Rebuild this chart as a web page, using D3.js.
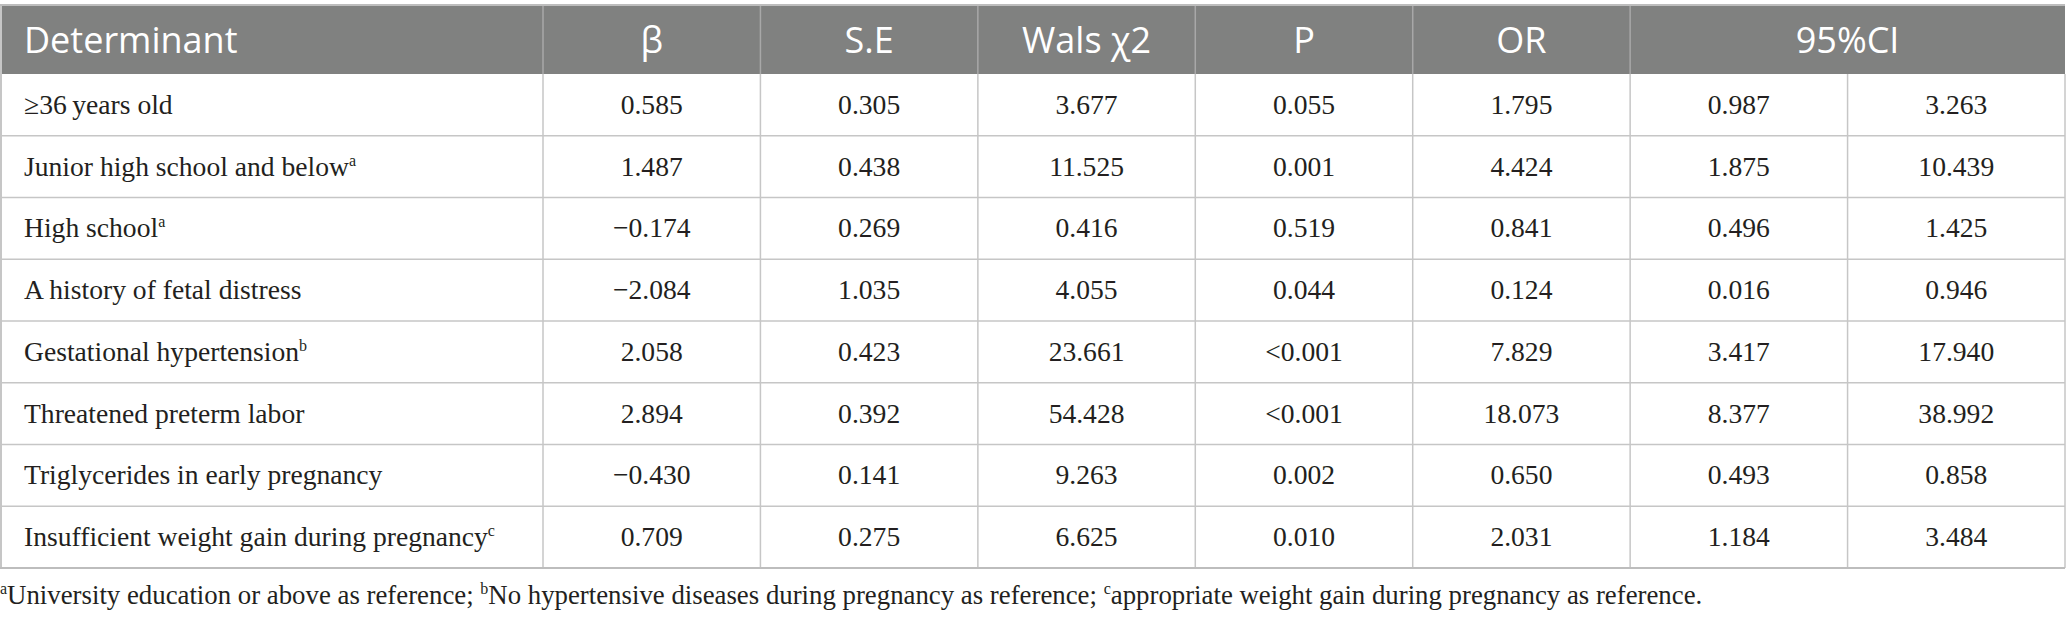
<!DOCTYPE html>
<html>
<head>
<meta charset="utf-8">
<script src="https://cdn.jsdelivr.net/npm/d3@7"></script>
<style>
  html, body { margin: 0; padding: 0; background: #fff; }
</style>
</head>
<body>
<div id="chart"></div>
<script>
// table data
var headers = ["Determinant", "\u03b2", "S.E", "Wals \u03c72", "P", "OR", "95%CI"];
var determinants = [
    "\u226536\u2009years old",
    "Junior high school and below",
    "High school",
    "A history of fetal distress",
    "Gestational hypertension",
    "Threatened preterm labor",
    "Triglycerides in early pregnancy",
    "Insufficient weight gain during pregnancy"
];
var marks = ["", "a", "a", "", "b", "", "", "c"];
var beta   = ["0.585", "1.487", "\u22120.174", "\u22122.084", "2.058", "2.894", "\u22120.430", "0.709"];
var se     = ["0.305", "0.438", "0.269", "1.035", "0.423", "0.392", "0.141", "0.275"];
var wals   = ["3.677", "11.525", "0.416", "4.055", "23.661", "54.428", "9.263", "6.625"];
var pval   = ["0.055", "0.001", "0.519", "0.044", "<0.001", "<0.001", "0.002", "0.010"];
var oddsR  = ["1.795", "4.424", "0.841", "0.124", "7.829", "18.073", "0.650", "2.031"];
var ciLow  = ["0.987", "1.875", "0.496", "0.016", "3.417", "8.377", "0.493", "1.184"];
var ciHigh = ["3.263", "10.439", "1.425", "0.946", "17.940", "38.992", "0.858", "3.484"];
var footnote = [
    ["a", "University education or above as reference; "],
    ["b", "No hypertensive diseases during pregnancy as reference; "],
    ["c", "appropriate weight gain during pregnancy as reference."]
];

var width = 2067, height = 619;
var headTop = 5, headBottom = 74, tableBottom = 568;
var firstColW = 543, tableRight = 2065;
var serif = "'Liberation Serif', 'DejaVu Serif', serif";
var sans = "'Open Sans', 'Noto Sans', sans-serif";

var svg = d3.select('#chart').append('svg')
    .attr('width', width)
    .attr('height', height);

// scales
var y = d3.scaleBand().domain(d3.range(determinants.length)).range([headBottom, tableBottom]);
var x = d3.scaleLinear().domain([0, 7]).range([firstColW, tableRight]);

var columns = [beta, se, wals, pval, oddsR, ciLow, ciHigh];

// header band
svg.append('rect')
    .attr('x', 0).attr('y', headTop)
    .attr('width', tableRight).attr('height', headBottom - headTop)
    .attr('fill', '#808180');

// header dividers (CI spans two columns)
svg.selectAll('line.hdiv').data(d3.range(0, 6)).enter()
    .append('line')
    .attr('class', 'hdiv')
    .attr('x1', function (d) { return x(d); })
    .attr('x2', function (d) { return x(d); })
    .attr('y1', headTop).attr('y2', headBottom)
    .attr('stroke', '#a8a8a8').attr('stroke-width', 1.5);

// header labels
var headX = [24].concat(d3.range(5).map(function (i) { return (x(i) + x(i + 1)) / 2; }), [x(6)]);
svg.selectAll('text.head').data(headers).enter()
    .append('text')
    .attr('class', 'head')
    .attr('x', function (d, i) { return headX[i]; })
    .attr('y', (headTop + headBottom) / 2 + 13)
    .attr('text-anchor', function (d, i) { return i === 0 ? 'start' : 'middle'; })
    .attr('font-family', sans)
    .attr('font-size', 36)
    .attr('fill', '#fff')
    .text(function (d) { return d; });

// grid lines
svg.selectAll('line.hrow').data(d3.range(1, determinants.length)).enter()
    .append('line')
    .attr('class', 'hrow')
    .attr('x1', 0).attr('x2', tableRight)
    .attr('y1', function (d) { return y(d); })
    .attr('y2', function (d) { return y(d); })
    .attr('stroke', '#c6c6c6').attr('stroke-width', 1.5);

svg.selectAll('line.vcol').data(d3.range(0, 8)).enter()
    .append('line')
    .attr('class', 'vcol')
    .attr('x1', function (d) { return x(d); })
    .attr('x2', function (d) { return x(d); })
    .attr('y1', headBottom).attr('y2', tableBottom)
    .attr('stroke', '#c6c6c6').attr('stroke-width', 1.5);

svg.append('line')
    .attr('x1', 1).attr('x2', 1)
    .attr('y1', headTop).attr('y2', tableBottom)
    .attr('stroke', '#c6c6c6').attr('stroke-width', 2);
svg.append('line')
    .attr('x1', 0).attr('x2', tableRight)
    .attr('y1', tableBottom).attr('y2', tableBottom)
    .attr('stroke', '#bdbdbd').attr('stroke-width', 2);
svg.append('line')
    .attr('x1', 0).attr('x2', tableRight)
    .attr('y1', headTop).attr('y2', headTop)
    .attr('stroke', '#bdbdbd').attr('stroke-width', 2);

// first column
var rowText = svg.selectAll('text.det').data(determinants).enter()
    .append('text')
    .attr('class', 'det')
    .attr('x', 24)
    .attr('y', function (d, i) { return y(i) + y.bandwidth() / 2 + 9; })
    .attr('font-family', serif)
    .attr('font-size', 27.6)
    .attr('fill', '#231f20');
rowText.append('tspan').text(function (d) { return d; });
rowText.append('tspan')
    .attr('font-size', 16)
    .attr('dy', -10)
    .text(function (d, i) { return marks[i]; });

// value columns
columns.forEach(function (col, c) {
    svg.selectAll('text.col' + c).data(col).enter()
        .append('text')
        .attr('class', 'col' + c)
        .attr('x', (x(c) + x(c + 1)) / 2)
        .attr('y', function (d, i) { return y(i) + y.bandwidth() / 2 + 9; })
        .attr('text-anchor', 'middle')
        .attr('font-family', serif)
        .attr('font-size', 27.6)
        .attr('fill', '#231f20')
        .text(function (d) { return d; });
});

// footnote
var fn = svg.append('text')
    .attr('x', 0)
    .attr('y', 604)
    .attr('font-family', serif)
    .attr('font-size', 26.8)
    .attr('fill', '#231f20');
footnote.forEach(function (f) {
    fn.append('tspan').attr('font-size', 16).attr('dy', -10).text(f[0]);
    fn.append('tspan').attr('dy', 10).text(f[1]);
});
</script>
</body>
</html>
